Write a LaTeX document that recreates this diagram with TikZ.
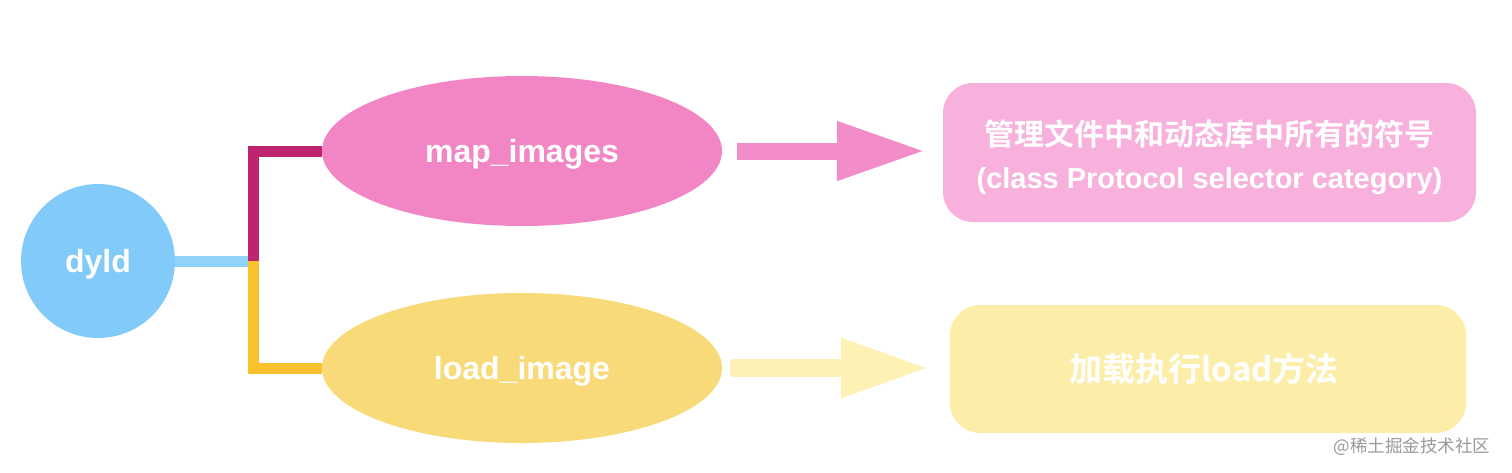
\documentclass[tikz,border=0pt]{standalone}
\usepackage{fontspec}
\setmainfont{Liberation Sans}
\newfontfamily\cjk{Noto Sans CJK SC}[BoldFont={Noto Sans CJK SC Bold}]
\usetikzlibrary{shapes.geometric,arrows.meta,backgrounds}

\definecolor{dyldblue}{HTML}{82CAFA}
\definecolor{forkblue}{HTML}{8FD3F9}
\definecolor{mapline}{HTML}{BF246F}
\definecolor{mappink}{HTML}{F286C5}
\definecolor{maparrow}{HTML}{F38DC9}
\definecolor{mapbox}{HTML}{F8B1DC}
\definecolor{loadline}{HTML}{F8C22F}
\definecolor{loadyellow}{HTML}{F9DA79}
\definecolor{loadarrow}{HTML}{FDF1B5}
\definecolor{loadbox}{HTML}{FCEEA9}

\begin{document}
\begin{tikzpicture}[x=1pt, y=-1pt,
    roundnode/.style={circle, fill=dyldblue, minimum size=154pt, inner sep=0pt, text depth=0pt, text=white, font=\bfseries\fontsize{32}{38}\selectfont},
    ovalnode/.style={ellipse, minimum width=400pt, minimum height=150pt, inner sep=0pt, text depth=0pt, text=white, font=\bfseries\fontsize{32}{38}\selectfont},
    boxnode/.style={rectangle, rounded corners=30pt, inner sep=0pt, text=white, align=center, font=\bfseries\fontsize{29}{43}\selectfont},
    forkline/.style={line width=11pt},
    bigarrow/.style={line width=#1, -{Triangle[length=89pt, width=55pt]}},
    ]
    \useasboundingbox (0,0) rectangle (1512,472);

    \node [roundnode] (dyld) at (98, 261) { dyld };

    \node [ovalnode, fill=mappink] (map) at (522, 151) { map\_images };
    \node [ovalnode, fill=loadyellow] (load) at (522, 368) { load\_image };

    \node [boxnode, fill=mapbox, minimum width=533pt, minimum height=139pt] (symbols) at (1209.5, 152.5)
        {};
    \node [boxnode] (symboltext) at (1209.5, 157)
        { {\cjk\bfseries\fontsize{30}{43}\selectfont 管理文件中和动态库中所有的符号}\\(class Protocol selector category) };
    \node [boxnode, fill=loadbox, minimum width=516pt, minimum height=128pt, font=\cjk\bfseries\fontsize{33}{40}\selectfont] (loadmethod) at (1208, 369)
        { 加载执行load方法 };

    \node [text=black!40, font=\cjk\fontsize{17.5}{20}\selectfont] (mark) at (1412, 447) { @稀土掘金技术社区 };

    \coordinate (fork) at (253.5, 261);
    \begin{pgfonlayer}{background}
    \draw [forkline, forkblue] (dyld.east) -- (fork);
    \draw [forkline, mapline] (fork) |- (map.west);
    \draw [forkline, loadline] (fork) |- (load.west);
    \end{pgfonlayer}

    \draw [bigarrow=17pt, maparrow, shorten <=15pt, shorten >=17pt] (map.east) -- (symbols.west |- map.east);
    \draw [bigarrow=18pt, loadarrow, shorten <=8pt, shorten >=20pt] (load.east) -- (loadmethod.west |- load.east);
\end{tikzpicture}
\end{document}
